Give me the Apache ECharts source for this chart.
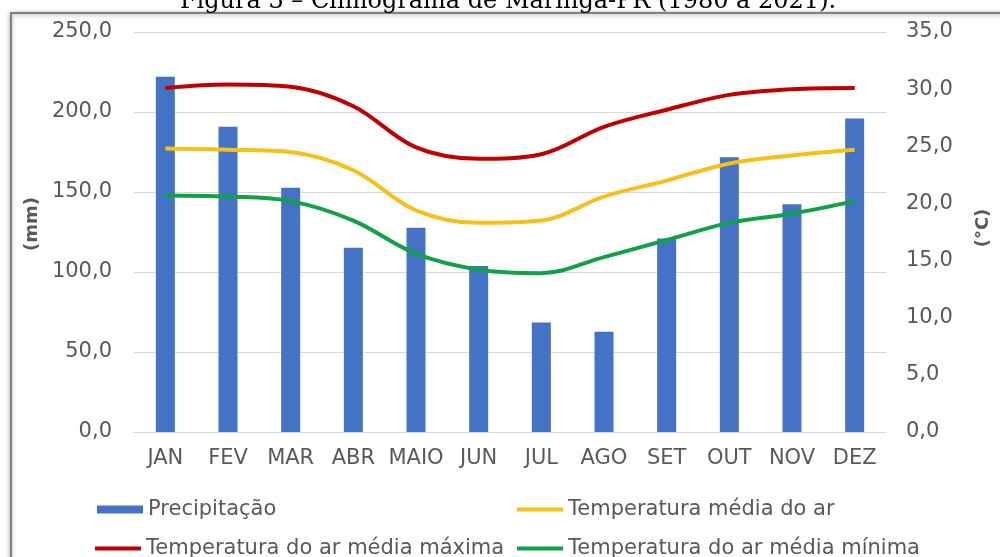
<!DOCTYPE html>
<html>
<head>
<meta charset="utf-8">
<script src="https://cdn.jsdelivr.net/npm/echarts@6/dist/echarts.min.js"></script>
<style>
html,body{margin:0;padding:0;background:#fff;}
#chart{width:1000px;height:557px;}
</style>
</head>
<body>
<div id="chart"></div>
<script>
var titleText = 'Figura 3 – Climograma de Maringá-PR (1980 a 2021).';
var categories = ['JAN','FEV','MAR','ABR','MAIO','JUN','JUL','AGO','SET','OUT','NOV','DEZ'];
var precip = [222.0, 190.8, 152.7, 115.2, 127.7, 103.7, 68.5, 62.7, 121.0, 171.7, 142.3, 196.0];
var tMean = [24.8, 24.7, 24.5, 22.9, 19.4, 18.3, 18.5, 20.6, 22.0, 23.5, 24.2, 24.7];
var tMax = [30.1, 30.4, 30.2, 28.5, 24.9, 23.9, 24.3, 26.7, 28.2, 29.5, 30.0, 30.1];
var tMin = [20.7, 20.6, 20.2, 18.5, 15.6, 14.2, 13.9, 15.3, 16.8, 18.3, 19.1, 20.2];
var names = ['Precipitação','Temperatura média do ar','Temperatura do ar média máxima','Temperatura do ar média mínima'];

var FONT = 'DejaVu Sans';
var GRAY = '#595959';
function fmt(v){ return v.toFixed(1).replace('.', ','); }
function legendAt(name, left, top, h){
  return {
    data: [name], left: left, top: top, padding: 0, icon: 'rect',
    itemWidth: 46, itemHeight: h, itemGap: 0,
    textStyle: {fontFamily: FONT, fontSize: 21, color: GRAY}
  };
}

var chart = echarts.init(document.getElementById('chart'), null, {renderer: 'canvas'});
chart.setOption({
  animation: false,
  backgroundColor: '#fff',
  graphic: [
    {type: 'rect', shape: {x: 11, y: 13, width: 1100, height: 700}, z: -10,
     style: {fill: '#fff', stroke: '#808080', lineWidth: 2, shadowBlur: 4, shadowColor: 'rgba(0,0,0,0.35)', shadowOffsetY: 1}},
    {type: 'text', x: 508, y: 2, z: 10,
     style: {text: titleText, font: '24px "DejaVu Serif"', fill: '#000', textAlign: 'center', textVerticalAlign: 'middle'}}
  ],
  grid: {left: 134, right: 100, top: 32, bottom: 125, containLabel: false},
  legend: [
    legendAt(names[0], 97, 499, 8),
    legendAt(names[1], 517, 499, 4),
    legendAt(names[2], 95, 538, 4),
    legendAt(names[3], 517, 538, 4)
  ],
  xAxis: {
    type: 'category', data: categories,
    axisLine: {show: true, lineStyle: {color: '#d9d9d9', width: 1}},
    axisTick: {show: false},
    axisLabel: {fontFamily: FONT, fontSize: 21, color: GRAY, margin: 16, interval: 0}
  },
  yAxis: [
    {
      type: 'value', min: 0, max: 250, interval: 50, position: 'left',
      name: '(mm)', nameLocation: 'middle', nameGap: 84, nameRotate: 90,
      nameTextStyle: {fontFamily: FONT, fontSize: 18, color: GRAY, fontWeight: 'bold', padding: [0, 0, 0, 16]},
      axisLine: {show: false}, axisTick: {show: false},
      axisLabel: {fontFamily: FONT, fontSize: 21, color: GRAY, margin: 22, formatter: fmt},
      splitLine: {show: true, lineStyle: {color: '#d9d9d9', width: 1}}
    },
    {
      type: 'value', min: 0, max: 35, interval: 5, position: 'right',
      name: '(°C)', nameLocation: 'middle', nameGap: 88, nameRotate: 90,
      nameTextStyle: {fontFamily: FONT, fontSize: 18, color: GRAY, fontWeight: 'bold', padding: [0, 0, 0, 8]},
      axisLine: {show: false}, axisTick: {show: false},
      axisLabel: {fontFamily: FONT, fontSize: 21, color: GRAY, margin: 20, formatter: fmt},
      splitLine: {show: false}
    }
  ],
  series: [
    {name: names[0], type: 'bar', data: precip, yAxisIndex: 0, barWidth: 19,
     itemStyle: {color: '#4472C4'}, z: 2},
    {name: names[2], type: 'line', data: tMax, yAxisIndex: 1, smooth: 0.35, showSymbol: false,
     lineStyle: {color: '#C00000', width: 4}, itemStyle: {color: '#C00000'}, z: 3},
    {name: names[1], type: 'line', data: tMean, yAxisIndex: 1, smooth: 0.35, showSymbol: false,
     lineStyle: {color: '#F5C01A', width: 4}, itemStyle: {color: '#F5C01A'}, z: 3},
    {name: names[3], type: 'line', data: tMin, yAxisIndex: 1, smooth: 0.35, showSymbol: false,
     lineStyle: {color: '#12A04A', width: 4}, itemStyle: {color: '#12A04A'}, z: 3}
  ]
});
</script>
</body>
</html>
